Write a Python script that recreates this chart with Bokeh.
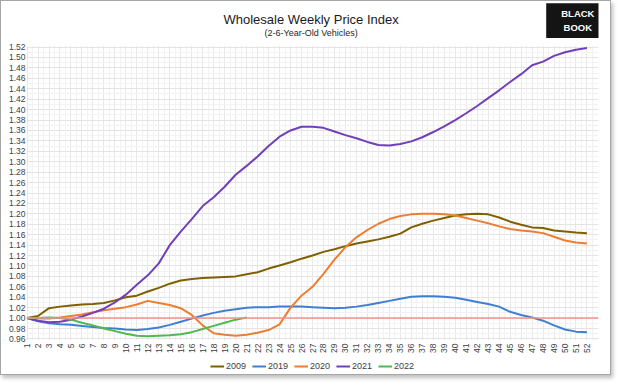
import numpy as np
from bokeh.plotting import figure
from bokeh.layouts import column
from bokeh.models import (ColumnDataSource, FixedTicker, Span, Legend, LegendItem,
                          Label, NumeralTickFormatter, Range1d)
from bokeh.embed import file_html
from bokeh.resources import INLINE

weeks = list(range(1, 53))
weeks_2022 = list(range(1, 22))

idx_2009 = [1.000, 1.004, 1.019, 1.022, 1.024, 1.026, 1.027, 1.029, 1.034, 1.040,
            1.043, 1.051, 1.058, 1.066, 1.072, 1.075, 1.077, 1.078, 1.079, 1.080,
            1.084, 1.088, 1.095, 1.101, 1.107, 1.114, 1.120, 1.127, 1.132, 1.138,
            1.143, 1.147, 1.151, 1.156, 1.162, 1.174, 1.181, 1.187, 1.192, 1.197,
            1.199, 1.200, 1.199, 1.193, 1.185, 1.179, 1.174, 1.173, 1.168, 1.166,
            1.164, 1.163]
idx_2019 = [1.000, 0.994, 0.990, 0.988, 0.987, 0.985, 0.983, 0.981, 0.980, 0.978,
            0.977, 0.979, 0.982, 0.987, 0.993, 0.999, 1.005, 1.010, 1.014, 1.017,
            1.020, 1.021, 1.021, 1.022, 1.022, 1.022, 1.021, 1.020, 1.019, 1.020,
            1.022, 1.025, 1.029, 1.033, 1.037, 1.041, 1.042, 1.042, 1.041, 1.039,
            1.035, 1.031, 1.027, 1.022, 1.012, 1.006, 1.001, 0.995, 0.986, 0.978,
            0.974, 0.973]
idx_2020 = [1.000, 0.999, 0.999, 1.001, 1.004, 1.007, 1.011, 1.015, 1.018, 1.021,
            1.026, 1.033, 1.029, 1.025, 1.019, 1.006, 0.986, 0.971, 0.968, 0.966,
            0.968, 0.972, 0.977, 0.988, 1.020, 1.043, 1.060, 1.085, 1.112, 1.136,
            1.155, 1.169, 1.181, 1.190, 1.196, 1.199, 1.200, 1.200, 1.199, 1.197,
            1.192, 1.187, 1.182, 1.176, 1.171, 1.168, 1.166, 1.163, 1.156, 1.149,
            1.145, 1.143]
idx_2021 = [1.000, 0.995, 0.992, 0.993, 0.997, 1.003, 1.010, 1.018, 1.030, 1.045,
            1.064, 1.082, 1.105, 1.140, 1.166, 1.190, 1.215, 1.232, 1.252, 1.275,
            1.292, 1.310, 1.330, 1.348, 1.360, 1.367, 1.367, 1.365, 1.358, 1.351,
            1.345, 1.338, 1.332, 1.331, 1.334, 1.339, 1.347, 1.357, 1.368, 1.380,
            1.393, 1.407, 1.422, 1.437, 1.453, 1.468, 1.485, 1.492, 1.503, 1.510,
            1.515, 1.518]
idx_2022 = [1.000, 1.000, 1.001, 1.000, 0.997, 0.991, 0.986, 0.980, 0.975, 0.970,
            0.966, 0.965, 0.966, 0.967, 0.969, 0.973, 0.979, 0.985, 0.991, 0.997,
            1.001]

series_names = ["2009", "2019", "2020", "2021", "2022"]
series_colors = ["#7f6000", "#3f7fd2", "#ed7d31", "#7040b8", "#4fb84f"]
baseline = 1.00

title_text = "Wholesale Weekly Price Index"
subtitle_text = "(2-6-Year-Old Vehicles)"
logo_text = "BLACK\nBOOK"

y_tick_values = [round(v, 2) for v in np.arange(0.96, 1.5201, 0.02)]
y_minor_values = [round(v, 2) for v in np.arange(0.96, 1.5201, 0.01)]
x_minor_values = [w + 0.5 for w in range(0, 53)]

FONT = "Liberation Sans"
W = 609


def bare(fig):
    fig.outline_line_color = None
    fig.border_fill_color = "white"
    fig.background_fill_color = "white"
    fig.grid.visible = False
    return fig


# ---- header (title, subtitle, logo)
TOP_H = 42
top = bare(figure(width=W, height=TOP_H, output_backend="svg", toolbar_location=None,
                  x_axis_type=None, y_axis_type=None,
                  x_range=Range1d(0, W), y_range=Range1d(0, TOP_H),
                  min_border=0))
top.add_layout(Label(x=303, y=TOP_H - 18, text=title_text, text_align="center",
                     text_baseline="middle", text_font=FONT, text_font_size="13px",
                     text_color="#1a1a1a"))
top.add_layout(Label(x=303, y=TOP_H - 31, text=subtitle_text, text_align="center",
                     text_baseline="middle", text_font=FONT, text_font_size="9px",
                     text_color="#262626"))
top.add_layout(Label(x=587, y=TOP_H - 19, text=logo_text, text_align="center",
                     text_baseline="middle", text_color="white", text_font=FONT,
                     text_font_size="9.5px", text_font_style="bold",
                     background_fill_color="#141414",
                     padding=dict(left=15, right=15, top=5, bottom=5),
                     text_line_height=1.25))

# ---- main chart
p = figure(width=W, height=314, output_backend="svg", toolbar_location=None,
           x_range=Range1d(0.95, 53.05), y_range=Range1d(0.957, 1.523),
           min_border_left=25, min_border_right=12, min_border_top=2,
           min_border_bottom=17)
p.outline_line_color = None
p.background_fill_color = "white"
p.border_fill_color = "white"

p.xgrid.ticker = FixedTicker(ticks=weeks, minor_ticks=x_minor_values)
p.ygrid.ticker = FixedTicker(ticks=y_tick_values, minor_ticks=y_minor_values)
p.xgrid.grid_line_color = "#e8e8e8"
p.ygrid.grid_line_color = "#e4e4e4"
p.xgrid.minor_grid_line_color = "#f2f2f2"
p.ygrid.minor_grid_line_color = "#f2f2f2"

p.xaxis.ticker = FixedTicker(ticks=weeks)
p.yaxis.ticker = FixedTicker(ticks=y_tick_values)
p.yaxis.formatter = NumeralTickFormatter(format="0.00")
for ax in (p.xaxis[0], p.yaxis[0]):
    ax.axis_line_color = None
    ax.major_tick_line_color = None
    ax.minor_tick_line_color = None
    ax.major_tick_out = 0
    ax.major_tick_in = 0
    ax.minor_tick_out = 0
    ax.major_label_text_font = FONT
    ax.major_label_text_font_size = "8.5px"
    ax.major_label_text_color = "#404040"
p.yaxis.major_label_standoff = 1
p.xaxis.major_label_standoff = 3
p.xaxis.major_label_orientation = np.pi / 2

p.add_layout(Span(location=baseline, dimension="width", line_color="#f0938a",
                  line_width=1.5))

data = [(weeks, idx_2009), (weeks, idx_2019), (weeks, idx_2020), (weeks, idx_2021),
        (weeks_2022, idx_2022)]
for name, color, (xs, ys) in zip(series_names, series_colors, data):
    src = ColumnDataSource(dict(x=xs, y=ys))
    p.line("x", "y", source=src, line_color=color, line_width=2)

# ---- legend strip (proxy renderers hold one point of each series, so nothing is drawn)
leg = bare(figure(width=W, height=17, output_backend="svg", toolbar_location=None,
                  x_axis_type=None, y_axis_type=None,
                  x_range=Range1d(0, 1), y_range=Range1d(0, 1), min_border=0))
items = []
for name, color, (xs, ys) in zip(series_names, series_colors, data):
    r = leg.line(x=xs[:1], y=ys[:1], line_color=color, line_width=2)
    items.append(LegendItem(label=name, renderers=[r]))
legend = Legend(items=items, orientation="horizontal", location="center",
                label_text_font=FONT, label_text_font_size="9px",
                label_text_color="#404040", glyph_width=14, glyph_height=8,
                label_standoff=2, spacing=6, padding=0, margin=0,
                border_line_color=None, background_fill_alpha=0)
leg.add_layout(legend)

layout = column(top, p, leg, spacing=0)
layout.styles = {"border": "1px solid #a6a6a6",
                 "box-shadow": "2px 3px 4px rgba(0,0,0,0.25)"}

open("out.html", "w").write(file_html(layout, INLINE))
